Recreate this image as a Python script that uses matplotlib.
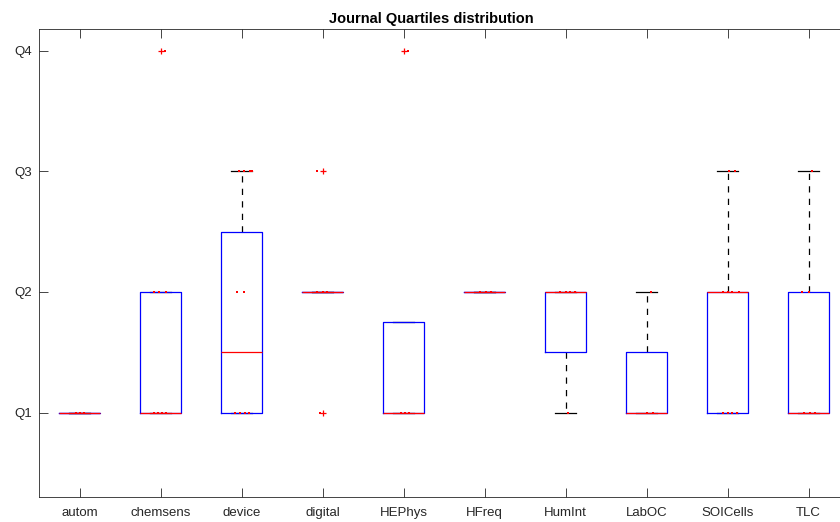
import matplotlib
matplotlib.use("Agg")
import matplotlib.pyplot as plt

plt.rcParams["font.family"] = ["Liberation Sans", "DejaVu Sans"]

labels = ["autom", "chemsens", "device", "digital", "HEPhys",
          "HFreq", "HumInt", "LabOC", "SOICells", "TLC"]
q1 = [1, 1, 1, 2, 1, 2, 1.5, 1, 1, 1]
med = [1, 1, 1.5, 2, 1, 2, 2, 1, 2, 1]
q3 = [1, 2, 2.5, 2, 1.75, 2, 2, 1.5, 2, 2]
whislo = [1, 1, 1, 2, 1, 2, 1, 1, 1, 1]
whishi = [1, 2, 3, 2, 1.75, 2, 2, 2, 3, 3]
outliers = [[], [4], [], [1, 3], [4], [], [], [], [], []]

# raw journal quartiles per group, with the horizontal jitter
point_vals = [
    [1, 1, 1],
    [1, 1, 1, 1, 2, 2, 2, 4],
    [1, 1, 1, 1, 2, 2, 3, 3, 3, 3],
    [1, 2, 2, 2, 3],
    [1, 1, 1, 4],
    [2, 2, 2],
    [1, 2, 2, 2, 2],
    [1, 1, 2],
    [1, 1, 1, 1, 2, 2, 2, 2, 3, 3],
    [1, 1, 1, 2, 2, 3],
]
point_jitter = [
    [-0.04, 0.0, 0.05],
    [-0.08, -0.03, 0.02, 0.07, -0.08, -0.02, 0.07, 0.06],
    [-0.08, -0.02, 0.04, 0.09, -0.05, 0.03, -0.03, 0.03, 0.11, 0.13],
    [-0.03, -0.07, 0.0, 0.05, -0.07],
    [-0.03, 0.02, 0.07, 0.06],
    [-0.06, 0.02, 0.08],
    [0.03, -0.07, 0.0, 0.06, 0.12],
    [0.0, 0.08, 0.05],
    [-0.05, 0.0, 0.06, 0.12, -0.05, 0.0, 0.06, 0.14, 0.02, 0.09],
    [-0.05, 0.02, 0.08, -0.08, 0.0, 0.04],
]

stats = []
for i, lab in enumerate(labels):
    stats.append(dict(label=lab, q1=q1[i], med=med[i], q3=q3[i],
                      whislo=whislo[i], whishi=whishi[i], fliers=outliers[i]))

fig = plt.figure(figsize=(8.4, 5.22), dpi=100)
ax = fig.add_axes([39 / 840, 25 / 522, 810 / 840, 468 / 522])

pos = list(range(1, len(labels) + 1))
ax.bxp(stats, positions=pos, widths=0.5, capwidths=0.25, patch_artist=False,
       boxprops=dict(color="blue", lw=0.9, zorder=3),
       medianprops=dict(color="red", lw=0.9, zorder=4),
       whiskerprops=dict(color="black", lw=0.9, ls=(0, (5, 5)), zorder=2),
       capprops=dict(color="black", lw=0.9, zorder=2),
       flierprops=dict(marker="+", markeredgecolor="red", markersize=5,
                       markeredgewidth=0.9, linestyle="none", zorder=5))

for i in range(len(labels)):
    xs = [pos[i] + j for j in point_jitter[i]]
    ax.plot(xs, point_vals[i], "s", color="red", markersize=1.6,
            markeredgewidth=0, zorder=6)

ax.set_xlim(0.5, 10.5)
ax.set_ylim(0.3, 4.18)
ax.set_xticks(pos)
ax.set_xticklabels(labels)
ax.set_yticks([1, 2, 3, 4])
ax.set_yticklabels(["Q1", "Q2", "Q3", "Q4"])
ax.tick_params(direction="in", length=6.5, width=0.6, color="#262626",
               labelsize=9.5, labelcolor="#262626", top=True, right=True)
ax.tick_params(axis="x", pad=7)
ax.tick_params(axis="y", pad=5)
for s in ax.spines.values():
    s.set_color("#262626")
    s.set_linewidth(0.6)

fig.text(431 / 840, 1 - 19 / 522, "Journal Quartiles distribution",
         ha="center", va="center", fontsize=10.5, fontweight="bold")

fig.savefig("out.png", dpi=100)
